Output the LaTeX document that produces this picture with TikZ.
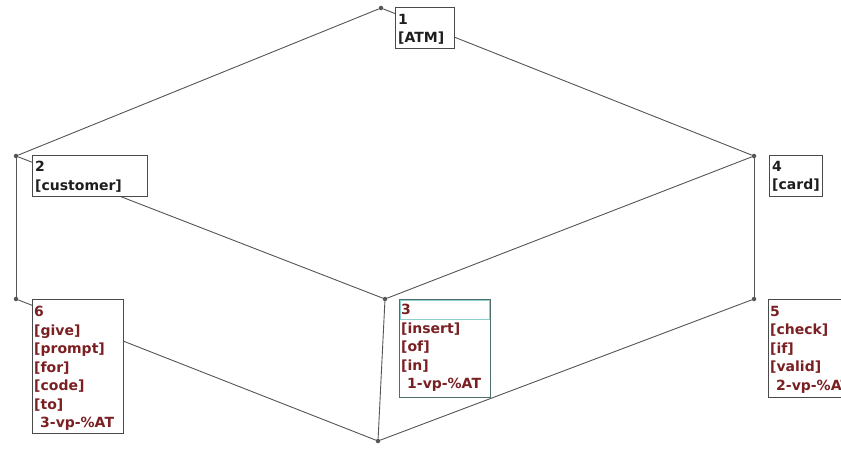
\documentclass[tikz,border=0pt]{standalone}
\usepackage{fontspec}
\newfontfamily\lblfont{DejaVu Sans}
\definecolor{linegray}{HTML}{555555}
\definecolor{boxgray}{HTML}{4A4A4A}
\definecolor{tealgray}{HTML}{4F6F6F}
\definecolor{hilite}{HTML}{8CCFCB}
\definecolor{ink}{HTML}{1E1E1E}
\definecolor{wine}{HTML}{7A1F22}
\tikzset{
  dot/.style={circle, fill=linegray, inner sep=0pt, minimum size=4.5pt},
  link/.style={draw=linegray, line width=0.9pt},
  box/.style={rectangle, draw=boxgray, fill=white, line width=1pt, inner sep=0pt, anchor=north west},
  lbl/.style={anchor=north west, inner sep=0pt, align=left,
              font=\lblfont\bfseries\fontsize{14}{18.5}\selectfont},
}
\begin{document}
\begin{tikzpicture}[x=1pt,y=-1pt]
\useasboundingbox (0,0) rectangle (841,451);
\clip (0,0) rectangle (841,451);
\fill[white] (0,0) rectangle (841,451);

% junction points of the lattice
\node[dot] (top) at (381,8) {};
\node[dot] (left) at (16,156) {};
\node[dot] (right) at (754,156) {};
\node[dot] (lbot) at (16,299) {};
\node[dot] (mid) at (385,299) {};
\node[dot] (rbot) at (754,299) {};
\node[dot] (bot) at (378,441) {};

% edges
\draw[link] (top) -- (left);
\draw[link] (top) -- (right);
\draw[link] (left) -- (lbot);
\draw[link] (left) -- (mid);
\draw[link] (right) -- (mid);
\draw[link] (right) -- (rbot);
\draw[link] (lbot) -- (bot);
\draw[link] (mid) -- (bot);
\draw[link] (rbot) -- (bot);

% concept boxes
\node[box, minimum width=59pt, minimum height=41pt] (b1) at (395,7) {};
\node[lbl, text=ink] (t1) at ([xshift=3pt,yshift=-7pt]b1.north west) {1\\{[}ATM]};

\node[box, minimum width=115pt, minimum height=41pt] (b2) at (32,155) {};
\node[lbl, text=ink] (t2) at ([xshift=3pt,yshift=-6pt]b2.north west) {2\\{[}customer]};

\node[box, minimum width=53pt, minimum height=41pt] (b4) at (769,155) {};
\node[lbl, text=ink] (t4) at ([xshift=3pt,yshift=-6pt]b4.north west) {4\\{[}card]};

\node[box, minimum width=91pt, minimum height=134pt] (b6) at (32,299) {};
\node[lbl, text=wine] (t6) at ([xshift=2pt,yshift=-7pt]b6.north west)
  {6\\{[}give]\\{[}prompt]\\{[}for]\\{[}code]\\{[}to]\\\hspace*{6pt}3-vp-\%AT};

\node[box, draw=tealgray, minimum width=91pt, minimum height=98pt] (b3) at (399,299) {};
\node[rectangle, draw=hilite, line width=1pt, inner sep=0pt, anchor=north west,
      minimum width=89pt, minimum height=19pt] (h3) at ([xshift=1pt,yshift=-1pt]b3.north west) {};
\node[lbl, text=wine] (t3) at ([xshift=2pt,yshift=-5pt]b3.north west)
  {3\\{[}insert]\\{[}of]\\{[}in]\\\hspace*{6pt}1-vp-\%AT};

\node[box, minimum width=102pt, minimum height=98pt] (b5) at (768,299) {};
\node[lbl, text=wine] (t5) at ([xshift=2pt,yshift=-7pt]b5.north west)
  {5\\{[}check]\\{[}if]\\{[}valid]\\\hspace*{6pt}2-vp-\%AT};
\end{tikzpicture}
\end{document}
